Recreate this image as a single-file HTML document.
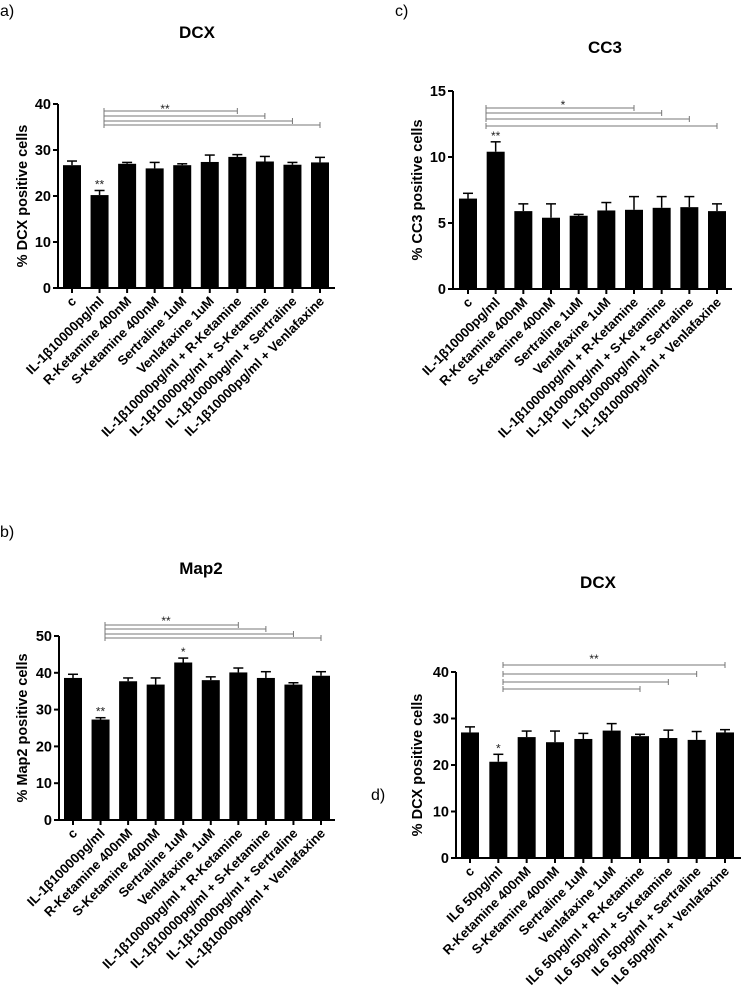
<!DOCTYPE html>
<html><head><meta charset="utf-8"><style>
body{margin:0;background:#fff;width:741px;height:999px;overflow:hidden}
svg{position:absolute;left:0;top:0}
text{font-family:"Liberation Sans",sans-serif}
</style></head><body>
<svg id="c" width="741" height="999"></svg>
<script>
const catsIL1 = ["c","IL-1β10000pg/ml","R-Ketamine 400nM","S-Ketamine 400nM","Sertraline 1uM","Venlafaxine 1uM","IL-1β10000pg/ml + R-Ketamine","IL-1β10000pg/ml + S-Ketamine","IL-1β10000pg/ml + Sertraline","IL-1β10000pg/ml + Venlafaxine"];
const catsIL6 = ["c","IL6 50pg/ml","R-Ketamine 400nM","S-Ketamine 400nM","Sertraline 1uM","Venlafaxine 1uM","IL6 50pg/ml + R-Ketamine","IL6 50pg/ml + S-Ketamine","IL6 50pg/ml + Sertraline","IL6 50pg/ml + Venlafaxine"];
const valsA = [26.7,20.2,27.0,26.0,26.7,27.4,28.5,27.5,26.8,27.3];
const errA  = [0.9,1.0,0.3,1.3,0.3,1.5,0.5,1.1,0.5,1.1];
const ticksA = [0,10,20,30,40];
const valsB = [38.6,27.3,37.7,36.8,42.8,38.0,40.1,38.6,36.8,39.2];
const errB  = [1.0,0.5,0.9,1.8,1.2,0.9,1.2,1.7,0.5,1.1];
const ticksB = [0,10,20,30,40,50];
const valsC = [6.85,10.4,5.9,5.4,5.55,5.95,6.0,6.15,6.2,5.9];
const errC  = [0.4,0.75,0.55,1.05,0.1,0.6,1.0,0.85,0.8,0.55];
const ticksC = [0,5,10,15];
const valsD = [27.0,20.7,26.0,24.9,25.6,27.4,26.2,25.8,25.4,27.0];
const errD  = [1.2,1.6,1.3,2.4,1.2,1.5,0.4,1.7,1.8,0.6];
const ticksD = [0,10,20,30,40];
const marksA = ["","**","","","","","","","",""];
const marksB = ["","**","","","*","","","","",""];
const marksC = ["","**","","","","","","","",""];
const marksD = ["","*","","","","","","","",""];

const svg=document.getElementById('c');
const NS='http://www.w3.org/2000/svg';
function el(tag,attrs,parent){const e=document.createElementNS(NS,tag);for(const k in attrs)e.setAttribute(k,attrs[k]);(parent||svg).appendChild(e);return e;}

function panel(p){
  const g=el('g',{});
  
  
  const ymax=p.ticks[p.ticks.length-1];
  const y=v=>p.y0-(v/ymax)*(p.y0-p.yTop);
  const step=(p.xLast-p.xFirst)/(p.cats.length-1);
  const x=i=>p.xFirst+i*step;
  let t=el('text',{x:p.lx,y:p.ly,'font-size':16},g);t.textContent=p.letter;
  
  
  t=el('text',{x:p.tx,y:p.ty,'font-size':17,'font-weight':'bold','text-anchor':'middle'},g);t.textContent=p.title;
  
  
  el('line',{x1:p.ax,y1:p.yTop,x2:p.ax,y2:p.y0+1,stroke:'#000','stroke-width':2},g);
  el('line',{x1:p.ax-4,y1:p.y0,x2:p.xEnd,y2:p.y0,stroke:'#000','stroke-width':2},g);
  p.ticks.forEach(v=>{
    el('line',{x1:p.ax-5,y1:y(v),x2:p.ax,y2:y(v),stroke:'#000','stroke-width':2},g);
    const tt=el('text',{x:p.ax-7,y:y(v)+5,'font-size':14.5,'font-weight':'bold','text-anchor':'end'},g);tt.textContent=v;
    
    
  });
  const yt=el('text',{x:0,y:0,'font-size':14.5,'font-weight':'bold','text-anchor':'middle',transform:`translate(${p.ytx},${(p.yTop+p.y0)/2}) rotate(-90)`},g);
  yt.textContent=p.ylabel;
  
  
  const bw=18;
  p.vals.forEach((v,i)=>{
    const cx=x(i);
    const r=el('rect',{x:cx-bw/2,y:y(v),width:bw,height:p.y0-y(v),fill:'#000'},g);
    
    
    const ye=y(v+p.err[i]);
    el('line',{x1:cx,y1:y(v),x2:cx,y2:ye,stroke:'#000','stroke-width':1.5},g);
    el('line',{x1:cx-5,y1:ye,x2:cx+5,y2:ye,stroke:'#000','stroke-width':1.5},g);
    el('line',{x1:cx,y1:p.y0,x2:cx,y2:p.y0+5,stroke:'#000','stroke-width':2},g);
    if(p.marks[i]){const m=el('text',{x:cx,y:ye-2,'font-size':12,'text-anchor':'middle',fill:'#222'},g);m.textContent=p.marks[i];
      
      }
    const lb=el('text',{x:0,y:0,'font-size':13.2,'font-weight':'bold','text-anchor':'end',transform:`translate(${cx+5},${p.y0+14}) rotate(-45)`},g);
    lb.textContent=p.cats[i];
    
    
  });
  p.sig.forEach((s,k)=>{
    const x1=p.sigStart, x2=x(s.to);
    el('line',{x1:x1,y1:s.y,x2:x2,y2:s.y,stroke:'#777','stroke-width':1},g);
    el('line',{x1:x1,y1:s.y-3,x2:x1,y2:s.y+3,stroke:'#777','stroke-width':1},g);
    el('line',{x1:x2,y1:s.y-3,x2:x2,y2:s.y+3,stroke:'#777','stroke-width':1},g);
  });
  const st=el('text',{x:p.sx,y:p.sy,'font-size':12,'text-anchor':'middle',fill:'#222'},g);st.textContent=p.sigMark;
  
  
}

panel({name:'panel-a-dcx',letter:'a)',lx:0,ly:16,title:'DCX',tx:197,ty:38,cats:catsIL1,vals:valsA,err:errA,ticks:ticksA,marks:marksA,
  ax:58,yTop:104,y0:288,xFirst:72,xLast:320,xEnd:335,ytx:27,ylabel:'% DCX positive cells',
  sigStart:104,sig:[{y:111,to:6},{y:116,to:7},{y:121,to:8},{y:125,to:9}],sx:165,sy:113,sigMark:'**'});
panel({name:'panel-b-map2',letter:'b)',lx:0,ly:537,title:'Map2',tx:201,ty:574,cats:catsIL1,vals:valsB,err:errB,ticks:ticksB,marks:marksB,
  ax:59,yTop:636,y0:820,xFirst:73,xLast:321,xEnd:335,ytx:27,ylabel:'% Map2 positive cells',
  sigStart:105,sig:[{y:625,to:6},{y:629,to:7},{y:634,to:8},{y:638,to:9}],sx:166,sy:625,sigMark:'**'});
panel({name:'panel-c-cc3',letter:'c)',lx:395,ly:16,title:'CC3',tx:605,ty:53,cats:catsIL1,vals:valsC,err:errC,ticks:ticksC,marks:marksC,
  ax:453,yTop:91,y0:289,xFirst:468,xLast:717,xEnd:732,ytx:422,ylabel:'% CC3 positive cells',
  sigStart:486,sig:[{y:108,to:6},{y:113,to:7},{y:119,to:8},{y:126,to:9}],sx:563,sy:109,sigMark:'*'});
panel({name:'panel-d-dcx-il6',letter:'d)',lx:371,ly:800,title:'DCX',tx:598,ty:588,cats:catsIL6,vals:valsD,err:errD,ticks:ticksD,marks:marksD,
  ax:456,yTop:672,y0:858,xFirst:470,xLast:725,xEnd:741,ytx:422,ylabel:'% DCX positive cells',
  sigStart:503,sig:[{y:665,to:9},{y:674,to:8},{y:682,to:7},{y:689,to:6}],sx:594,sy:663,sigMark:'**'});
</script>
</body></html>
